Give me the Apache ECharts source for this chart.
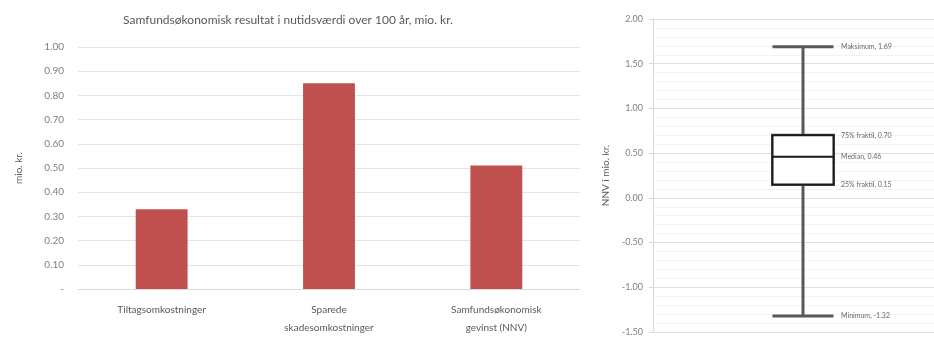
<!DOCTYPE html>
<html><head><meta charset="utf-8">
<script src="https://cdn.jsdelivr.net/npm/echarts@6/dist/echarts.min.js"></script>
<style>html,body{margin:0;padding:0;background:#fff;overflow:hidden;width:934px;height:338px}#c{width:953px;height:338px}</style>
</head><body><div id="c"></div>
<script>
const barCategories = ['Tiltagsomkostninger', 'Sparede\nskadesomkostninger', 'Samfundsøkonomisk\ngevinst (NNV)'];
const barValues = [0.33, 0.85, 0.51];
const barTicks = [0, 0.1, 0.2, 0.3, 0.4, 0.5, 0.6, 0.7, 0.8, 0.9, 1.0];
const boxCategory = ['NNV'];
const boxStats = [-1.32, 0.15, 0.46, 0.70, 1.69]; // min, Q1, median, Q3, max
const boxLabelNames = ['Minimum', '25% fraktil', 'Median', '75% fraktil', 'Maksimum'];
const boxTicks = [-1.5, -1.0, -0.5, 0, 0.5, 1.0, 1.5, 2.0];

const FONT = 'Lato';
const chart = echarts.init(document.getElementById('c'));
const labelData = boxStats.map((v, i) => ({ name: boxLabelNames[i], value: [boxCategory[0], v] }));
chart.setOption({
  animation: false,
  textStyle: { fontFamily: FONT },
  title: {
    text: 'Samfundsøkonomisk resultat i nutidsværdi over 100 år, mio. kr.',
    left: 283, textAlign: 'center', top: 9,
    textStyle: { fontFamily: FONT, fontSize: 12, fontWeight: 'normal', color: '#595959' }
  },
  grid: [
    { left: 78, right: 373, top: 47, bottom: 49 },
    { left: 653, right: 0, top: 19, bottom: 6 }
  ],
  xAxis: [
    { type: 'category', gridIndex: 0, data: barCategories,
      axisLine: { lineStyle: { color: '#d9d9d9' } }, axisTick: { show: false },
      axisLabel: { fontFamily: FONT, fontSize: 10, color: '#595959', lineHeight: 18, margin: 12, interval: 0 } },
    { type: 'category', gridIndex: 1, data: boxCategory, show: false },
    { type: 'category', gridIndex: 1, data: boxCategory, show: false }
  ],
  yAxis: [
    { type: 'value', gridIndex: 0, min: barTicks[0], max: barTicks[barTicks.length - 1], interval: 0.1,
      name: 'mio. kr.', nameLocation: 'middle', nameGap: 54, nameRotate: 90,
      nameTextStyle: { fontFamily: FONT, fontSize: 10, color: '#595959' },
      axisLine: { show: false }, axisTick: { show: false },
      axisLabel: { fontFamily: FONT, fontSize: 10, color: '#808080', margin: 14,
        formatter: v => Math.abs(v) < 1e-9 ? '-' : v.toFixed(2) },
      splitLine: { lineStyle: { color: '#e4e4e4' } } },
    { type: 'value', gridIndex: 1, min: boxTicks[0], max: boxTicks[boxTicks.length - 1], interval: 0.5,
      name: 'NNV i mio. kr.', nameLocation: 'middle', nameGap: 42, nameRotate: 90,
      nameTextStyle: { fontFamily: FONT, fontSize: 10, color: '#595959' },
      axisLine: { show: true, lineStyle: { color: '#d9d9d9' } },
      axisTick: { show: true, length: 4, lineStyle: { color: '#d9d9d9' } },
      axisLabel: { fontFamily: FONT, fontSize: 9, color: '#808080', margin: 10, formatter: v => v.toFixed(2) },
      splitLine: { lineStyle: { color: '#e0e0e0' } },
      minorTick: { show: false, splitNumber: 5 },
      minorSplitLine: { show: true, lineStyle: { color: '#f2f2f2' } } }
  ],
  series: [
    { type: 'bar', xAxisIndex: 0, yAxisIndex: 0, data: barValues, barWidth: '31%',
      itemStyle: { color: '#c0504d' } },
    { type: 'boxplot', xAxisIndex: 1, yAxisIndex: 1, boxWidth: [61, 61],
      data: [boxStats],
      itemStyle: { color: '#fff', borderColor: '#595959', borderWidth: 3 } },
    { type: 'boxplot', xAxisIndex: 2, yAxisIndex: 1, boxWidth: [61, 61],
      data: [[boxStats[1], boxStats[1], boxStats[2], boxStats[3], boxStats[3]]],
      itemStyle: { color: '#fff', borderColor: '#1a1a1a', borderWidth: 2 } },
    { type: 'scatter', xAxisIndex: 1, yAxisIndex: 1, symbolSize: 0, data: labelData,
      label: { show: true, position: 'right', distance: 38, fontFamily: FONT, fontSize: 7, color: '#404040',
        formatter: p => p.name + ', ' + p.value[1].toFixed(2) } }
  ]
});
</script></body></html>
